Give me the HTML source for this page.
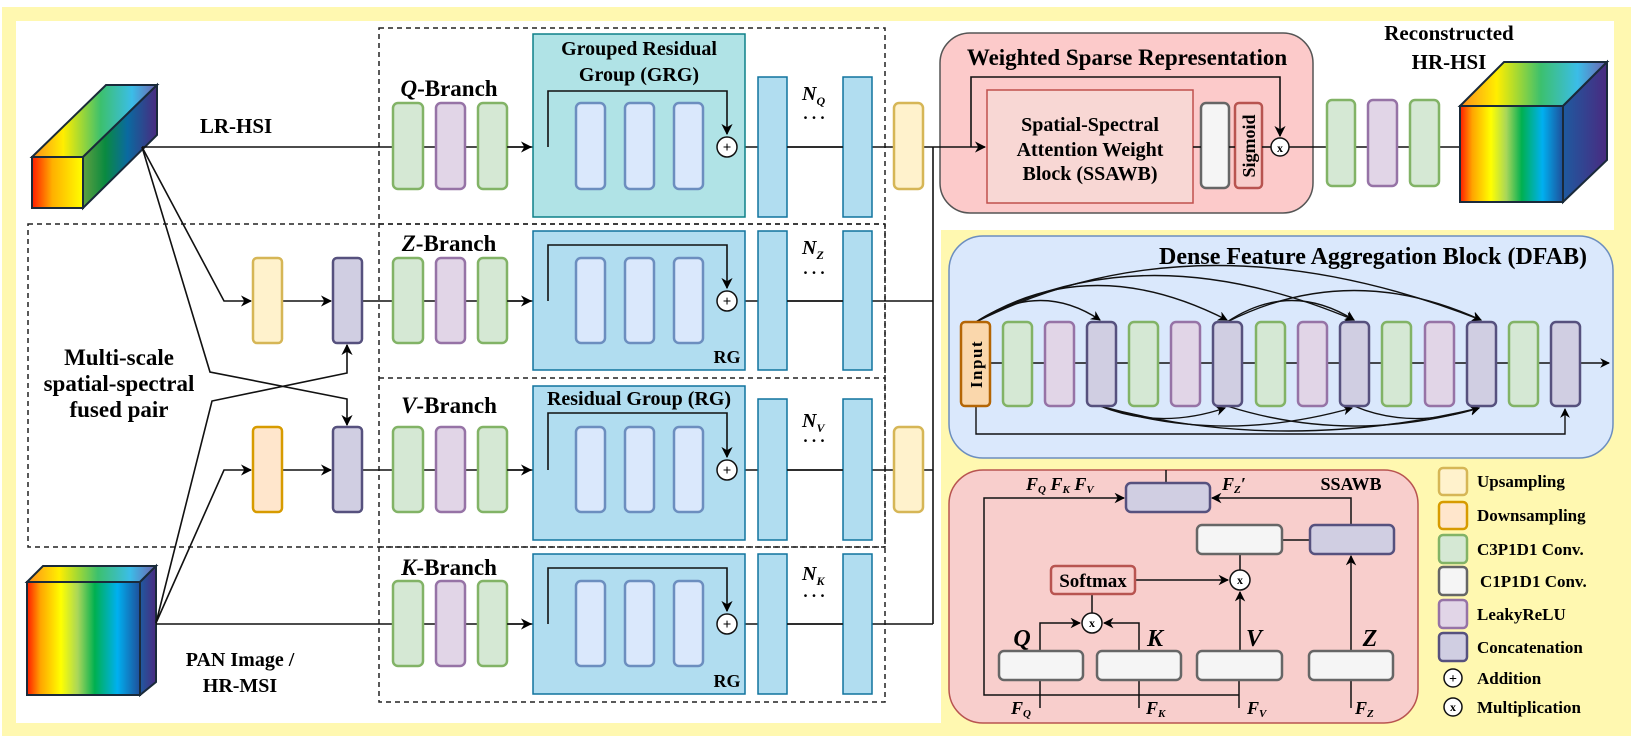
<!DOCTYPE html>
<html><head><meta charset="utf-8"><style>
html,body{margin:0;padding:0;background:#fff;}
svg{display:block;}
text{font-family:"Liberation Serif",serif;font-weight:bold;fill:#000;}
</style></head><body>
<svg width="1633" height="738" viewBox="0 0 1633 738" xmlns="http://www.w3.org/2000/svg">
<defs>
<marker id="a" viewBox="0 0 10 10" refX="9" refY="5" markerWidth="7" markerHeight="7" orient="auto-start-reverse"><path d="M0,0 L10,5 L0,10 L3,5 z" fill="#000"/></marker>
<linearGradient id="spec" x1="0" x2="1" y1="0" y2="0">
<stop offset="0" stop-color="#ff1a00"/><stop offset="0.12" stop-color="#ffa500"/><stop offset="0.3" stop-color="#ffff00"/><stop offset="0.45" stop-color="#a8d65a"/><stop offset="0.6" stop-color="#00b050"/><stop offset="0.8" stop-color="#00b0f0"/><stop offset="1" stop-color="#1f4e9a"/></linearGradient>
<linearGradient id="top" x1="0" x2="1" y1="0" y2="0">
<stop offset="0" stop-color="#ff8c1a"/><stop offset="0.25" stop-color="#ffee00"/><stop offset="0.55" stop-color="#3cc06e"/><stop offset="0.8" stop-color="#3bbde8"/><stop offset="1" stop-color="#7060b0"/></linearGradient>
<linearGradient id="side" x1="0" x2="1" y1="0" y2="0">
<stop offset="0" stop-color="#5ea040"/><stop offset="0.3" stop-color="#0a8a40"/><stop offset="0.6" stop-color="#0a6aa0"/><stop offset="1" stop-color="#4a2a80"/></linearGradient>
<linearGradient id="lrfront" x1="0" x2="1" y1="0" y2="0">
<stop offset="0" stop-color="#ff1a00"/><stop offset="0.4" stop-color="#ffb000"/><stop offset="1" stop-color="#ffff00"/></linearGradient>
<linearGradient id="side2" x1="0" x2="1"><stop offset="0" stop-color="#1e5aa0"/><stop offset="1" stop-color="#4a2a80"/></linearGradient>
</defs>
<rect width="1633" height="738" fill="#fff"/>
<rect x="2" y="7" width="1629" height="729" fill="#fff8b0"/>
<rect x="16" y="21" width="1598" height="209" fill="#fff"/>
<rect x="16" y="21" width="925" height="702" fill="#fff"/>

<g fill="none" stroke="#222" stroke-width="1.5" stroke-dasharray="5,4">
<rect x="379" y="28" width="506" height="674"/>
<line x1="379" y1="224" x2="885" y2="224"/>
<line x1="379" y1="547" x2="885" y2="547"/>
<rect x="28" y="224" width="857" height="323"/>
<line x1="379" y1="378" x2="885" y2="378"/>
</g>

<polygon points="32,157 106,85 157,85 83,157" fill="url(#top)" stroke="#1a2a3a" stroke-width="2"/>
<polygon points="83,157 157,85 157,135 83,208" fill="url(#side)" stroke="#1a2a3a" stroke-width="2"/>
<rect x="32" y="157" width="51" height="51" fill="url(#lrfront)" stroke="#1a2a3a" stroke-width="2"/>
<polygon points="27,582 43,566 156,566 140,582" fill="url(#top)" stroke="#1a2a3a" stroke-width="2"/>
<polygon points="140,582 156,566 156,682 140,695" fill="url(#side2)" stroke="#1a2a3a" stroke-width="2"/>
<rect x="27" y="582" width="113" height="113" fill="url(#spec)" stroke="#1a2a3a" stroke-width="2"/>

<g stroke="#111" stroke-width="1.6" fill="none">
<line x1="142" y1="147" x2="933" y2="147"/>
<line x1="362" y1="301" x2="933" y2="301"/>
<line x1="362" y1="470" x2="933" y2="470"/>
<line x1="156" y1="624" x2="933" y2="624"/>
<line x1="933" y1="147" x2="933" y2="624"/>
<polyline points="142,147 224,301 251,301" marker-end="url(#a)"/>
<line x1="282" y1="301" x2="331" y2="301" marker-end="url(#a)"/>
<polyline points="156,623 224,470 251,470" marker-end="url(#a)"/>
<line x1="282" y1="470" x2="331" y2="470" marker-end="url(#a)"/>
<polyline points="142,147 210,372 347,399 347,425" marker-end="url(#a)"/>
<polyline points="156,623 212,401 347,373 347,345" marker-end="url(#a)"/>
</g>

<g stroke-width="2.5">
<rect x="253" y="258" width="29" height="85" rx="4" fill="#fff2cc" stroke="#d6b656"/>
<rect x="333" y="258" width="29" height="85" rx="4" fill="#d0cee2" stroke="#56517e"/>
<rect x="253" y="427" width="29" height="85" rx="4" fill="#ffe6cc" stroke="#d79b00"/>
<rect x="333" y="427" width="29" height="85" rx="4" fill="#d0cee2" stroke="#56517e"/>
</g>

<rect x="533" y="34" width="212" height="183" fill="#b0e3e6" stroke="#0e8088" stroke-width="1.5"/>
<rect x="533" y="231" width="212" height="139" fill="#b1ddf0" stroke="#10739e" stroke-width="1.5"/>
<rect x="533" y="386" width="212" height="154" fill="#b1ddf0" stroke="#10739e" stroke-width="1.5"/>
<rect x="533" y="554" width="212" height="140" fill="#b1ddf0" stroke="#10739e" stroke-width="1.5"/>
<g fill="#b1ddf0" stroke="#10739e" stroke-width="1.5">
<rect x="758" y="77" width="29" height="140"/><rect x="843" y="77" width="29" height="140"/>
<rect x="758" y="231" width="29" height="139"/><rect x="843" y="231" width="29" height="139"/>
<rect x="758" y="399" width="29" height="141"/><rect x="843" y="399" width="29" height="141"/>
<rect x="758" y="554" width="29" height="140"/><rect x="843" y="554" width="29" height="140"/>
</g>
<g stroke="#111" stroke-width="1.6" fill="none">
<line x1="787" y1="147" x2="843" y2="147"/>
<line x1="787" y1="301" x2="843" y2="301"/>
<line x1="787" y1="470" x2="843" y2="470"/>
<line x1="787" y1="624" x2="843" y2="624"/>
</g>

<g stroke-width="2.5">
<rect x="393" y="103" width="30" height="86" rx="5" fill="#d5e8d4" stroke="#82b366"/>
<rect x="436" y="103" width="29" height="86" rx="5" fill="#e1d5e7" stroke="#9673a6"/>
<rect x="478" y="103" width="29" height="86" rx="5" fill="#d5e8d4" stroke="#82b366"/>
<rect x="393" y="258" width="30" height="85" rx="5" fill="#d5e8d4" stroke="#82b366"/>
<rect x="436" y="258" width="29" height="85" rx="5" fill="#e1d5e7" stroke="#9673a6"/>
<rect x="478" y="258" width="29" height="85" rx="5" fill="#d5e8d4" stroke="#82b366"/>
<rect x="393" y="427" width="30" height="85" rx="5" fill="#d5e8d4" stroke="#82b366"/>
<rect x="436" y="427" width="29" height="85" rx="5" fill="#e1d5e7" stroke="#9673a6"/>
<rect x="478" y="427" width="29" height="85" rx="5" fill="#d5e8d4" stroke="#82b366"/>
<rect x="393" y="581" width="30" height="85" rx="5" fill="#d5e8d4" stroke="#82b366"/>
<rect x="436" y="581" width="29" height="85" rx="5" fill="#e1d5e7" stroke="#9673a6"/>
<rect x="478" y="581" width="29" height="85" rx="5" fill="#d5e8d4" stroke="#82b366"/>
<g fill="#dae8fc" stroke="#6c8ebf">
<rect x="576" y="103" width="29" height="86" rx="5"/><rect x="625" y="103" width="29" height="86" rx="5"/><rect x="674" y="103" width="29" height="86" rx="5"/>
<rect x="576" y="258" width="29" height="85" rx="5"/><rect x="625" y="258" width="29" height="85" rx="5"/><rect x="674" y="258" width="29" height="85" rx="5"/>
<rect x="576" y="427" width="29" height="85" rx="5"/><rect x="625" y="427" width="29" height="85" rx="5"/><rect x="674" y="427" width="29" height="85" rx="5"/>
<rect x="576" y="581" width="29" height="85" rx="5"/><rect x="625" y="581" width="29" height="85" rx="5"/><rect x="674" y="581" width="29" height="85" rx="5"/>
</g>
<rect x="894" y="103" width="29" height="86" rx="5" fill="#fff2cc" stroke="#d6b656"/>
<rect x="894" y="427" width="29" height="85" rx="5" fill="#fff2cc" stroke="#d6b656"/>
</g>

<g stroke="#111" stroke-width="1.6" fill="none">
<line x1="507" y1="147" x2="531" y2="147" marker-end="url(#a)"/>
<line x1="507" y1="301" x2="531" y2="301" marker-end="url(#a)"/>
<line x1="507" y1="470" x2="531" y2="470" marker-end="url(#a)"/>
<line x1="507" y1="624" x2="531" y2="624" marker-end="url(#a)"/>
<polyline points="548,147 548,91 727,91 727,134" marker-end="url(#a)"/>
<polyline points="548,301 548,245 727,245 727,288" marker-end="url(#a)"/>
<polyline points="548,470 548,413 727,413 727,457" marker-end="url(#a)"/>
<polyline points="548,624 548,568 727,568 727,611" marker-end="url(#a)"/>
</g>
<g fill="#fff" stroke="#111" stroke-width="1.5">
<circle cx="727" cy="147" r="10"/><circle cx="727" cy="301" r="10"/><circle cx="727" cy="470" r="10"/><circle cx="727" cy="624" r="10"/>
</g>
<g font-size="15" text-anchor="middle">
<text x="727" y="152">+</text><text x="727" y="306">+</text><text x="727" y="475">+</text><text x="727" y="629">+</text>
</g>

<text x="236" y="133" font-size="21" text-anchor="middle">LR-HSI</text>
<g font-size="23" text-anchor="middle">
<text x="449" y="96"><tspan font-style="italic">Q</tspan>-Branch</text>
<text x="449" y="251"><tspan font-style="italic">Z</tspan>-Branch</text>
<text x="449" y="413"><tspan font-style="italic">V</tspan>-Branch</text>
<text x="449" y="575"><tspan font-style="italic">K</tspan>-Branch</text>
</g>
<g font-size="20" text-anchor="middle">
<text x="639" y="55">Grouped Residual</text>
<text x="639" y="81">Group (GRG)</text>
<text x="639" y="405">Residual Group (RG)</text>
</g>
<text x="727" y="363" font-size="18" text-anchor="middle">RG</text>
<text x="727" y="687" font-size="18" text-anchor="middle">RG</text>
<g font-size="20" font-style="italic">
<text x="802" y="100">N<tspan font-size="12" dy="5">Q</tspan></text>
<text x="802" y="254">N<tspan font-size="12" dy="5">Z</tspan></text>
<text x="802" y="427">N<tspan font-size="12" dy="5">V</tspan></text>
<text x="802" y="580">N<tspan font-size="12" dy="5">K</tspan></text>
</g>
<g font-size="17" text-anchor="middle">
<text x="814" y="119">. . .</text><text x="814" y="274">. . .</text><text x="814" y="442">. . .</text><text x="814" y="597">. . .</text>
</g>
<g font-size="23" text-anchor="middle">
<text x="119" y="365">Multi-scale</text>
<text x="119" y="391">spatial-spectral</text>
<text x="119" y="417">fused pair</text>
</g>
<g font-size="20" text-anchor="middle">
<text x="240" y="666">PAN Image /</text>
<text x="240" y="692">HR-MSI</text>
</g>

<rect x="940" y="33" width="373" height="180" rx="30" fill="#fccaca" stroke="#555" stroke-width="1.5"/>
<text x="1127" y="65" font-size="23" text-anchor="middle">Weighted Sparse Representation</text>
<rect x="987" y="90" width="206" height="113" fill="#f8d7d4" stroke="#c0504d" stroke-width="1.5"/>
<g font-size="20" text-anchor="middle">
<text x="1090" y="131">Spatial-Spectral</text>
<text x="1090" y="156">Attention Weight</text>
<text x="1090" y="180">Block (SSAWB)</text>
</g>
<rect x="1201" y="103" width="28" height="85" rx="5" fill="#f5f5f5" stroke="#666" stroke-width="2.5"/>
<rect x="1235" y="103" width="27" height="85" rx="4" fill="#f8cecc" stroke="#b85450" stroke-width="2.5"/>
<text transform="translate(1255,146) rotate(-90)" font-size="18" text-anchor="middle">Sigmoid</text>
<g stroke="#111" stroke-width="1.6" fill="none">
<line x1="933" y1="147" x2="985" y2="147" marker-end="url(#a)"/>
<polyline points="971,147 971,77 1280,77 1280,136" marker-end="url(#a)"/>
<line x1="1193" y1="147" x2="1201" y2="147"/><line x1="1229" y1="147" x2="1235" y2="147"/><line x1="1262" y1="147" x2="1271" y2="147"/>
<line x1="1289" y1="147" x2="1460" y2="147"/>
</g>
<circle cx="1280" cy="147" r="9" fill="#fff" stroke="#111" stroke-width="1.5"/>
<text x="1280" y="152" font-size="12" text-anchor="middle" font-weight="normal">x</text>
<g stroke-width="2.5">
<rect x="1327" y="100" width="28" height="86" rx="5" fill="#d5e8d4" stroke="#82b366"/>
<rect x="1368" y="100" width="29" height="86" rx="5" fill="#e1d5e7" stroke="#9673a6"/>
<rect x="1410" y="100" width="29" height="86" rx="5" fill="#d5e8d4" stroke="#82b366"/>
</g>
<polygon points="1460,106 1504,62 1607,62 1563,106" fill="url(#top)" stroke="#1a2a3a" stroke-width="2"/>
<polygon points="1563,106 1607,62 1607,160 1563,202" fill="url(#side2)" stroke="#1a2a3a" stroke-width="2"/>
<rect x="1460" y="106" width="103" height="96" fill="url(#spec)" stroke="#1a2a3a" stroke-width="2"/>
<g font-size="21" text-anchor="middle">
<text x="1449" y="40">Reconstructed</text>
<text x="1449" y="69">HR-HSI</text>
</g>

<rect x="949" y="236" width="664" height="222" rx="34" fill="#dae8fc" stroke="#6c8ebf" stroke-width="1.5"/>
<text x="1587" y="264" font-size="24" text-anchor="end">Dense Feature Aggregation Block (DFAB)</text>
<g stroke="#111" stroke-width="1.4" fill="none">
<line x1="990" y1="363" x2="1609" y2="363" marker-end="url(#a)"/>
<polyline points="976,406 976,434 1565,434 1565,409" marker-end="url(#a)"/>
<path d="M976,322 Q1040,280 1100,320" marker-end="url(#a)"/>
<path d="M976,322 Q1090,250 1227,320" marker-end="url(#a)"/>
<path d="M976,322 Q1140,230 1354,320" marker-end="url(#a)"/>
<path d="M976,322 Q1200,210 1481,320" marker-end="url(#a)"/>
<path d="M1227,322 Q1290,280 1354,320" marker-end="url(#a)"/>
<path d="M1227,322 Q1350,260 1481,320" marker-end="url(#a)"/>
<path d="M1100,406 Q1160,430 1225,408" marker-end="url(#a)"/>
<path d="M1100,406 Q1220,445 1352,408" marker-end="url(#a)"/>
<path d="M1100,406 Q1280,455 1479,408" marker-end="url(#a)"/>
<path d="M1227,406 Q1350,445 1479,408" marker-end="url(#a)"/>
<path d="M1354,406 Q1410,430 1479,408" marker-end="url(#a)"/>
</g>
<g stroke-width="2.5">
<rect x="961" y="322" width="29" height="84" rx="4" fill="#fad7ac" stroke="#b46504"/>
<rect x="1003" y="322" width="29" height="84" rx="5" fill="#d5e8d4" stroke="#82b366"/>
<rect x="1045" y="322" width="29" height="84" rx="5" fill="#e1d5e7" stroke="#9673a6"/>
<rect x="1087" y="322" width="29" height="84" rx="5" fill="#d0cee2" stroke="#56517e"/>
<rect x="1129" y="322" width="29" height="84" rx="5" fill="#d5e8d4" stroke="#82b366"/>
<rect x="1171" y="322" width="29" height="84" rx="5" fill="#e1d5e7" stroke="#9673a6"/>
<rect x="1213" y="322" width="29" height="84" rx="5" fill="#d0cee2" stroke="#56517e"/>
<rect x="1256" y="322" width="29" height="84" rx="5" fill="#d5e8d4" stroke="#82b366"/>
<rect x="1298" y="322" width="29" height="84" rx="5" fill="#e1d5e7" stroke="#9673a6"/>
<rect x="1340" y="322" width="29" height="84" rx="5" fill="#d0cee2" stroke="#56517e"/>
<rect x="1382" y="322" width="29" height="84" rx="5" fill="#d5e8d4" stroke="#82b366"/>
<rect x="1425" y="322" width="29" height="84" rx="5" fill="#e1d5e7" stroke="#9673a6"/>
<rect x="1467" y="322" width="29" height="84" rx="5" fill="#d0cee2" stroke="#56517e"/>
<rect x="1509" y="322" width="29" height="84" rx="5" fill="#d5e8d4" stroke="#82b366"/>
<rect x="1551" y="322" width="29" height="84" rx="5" fill="#d0cee2" stroke="#56517e"/>
</g>
<text transform="translate(982,364) rotate(-90)" font-size="17" text-anchor="middle" letter-spacing="1.5">Input</text>

<rect x="949" y="470" width="469" height="253" rx="34" fill="#f8cecc" stroke="#b85450" stroke-width="1.5"/>
<g stroke="#111" stroke-width="1.5" fill="none">
<line x1="1166" y1="470" x2="1166" y2="483"/>
<polyline points="1239,695 984,695 984,498 1124,498" marker-end="url(#a)"/>
<polyline points="1351,525 1351,498 1212,498" marker-end="url(#a)"/>
<line x1="1282" y1="540" x2="1310" y2="540"/>
<line x1="1240" y1="554" x2="1240" y2="570"/>
<line x1="1135" y1="580" x2="1228" y2="580" marker-end="url(#a)"/>
<line x1="1240" y1="651" x2="1240" y2="592" marker-end="url(#a)"/>
<line x1="1092" y1="594" x2="1092" y2="613"/>
<polyline points="1040,651 1040,623 1080,623" marker-end="url(#a)"/>
<polyline points="1139,651 1139,623 1104,623" marker-end="url(#a)"/>
<line x1="1351" y1="651" x2="1351" y2="556" marker-end="url(#a)"/>
<line x1="1040" y1="680" x2="1040" y2="708"/>
<line x1="1139" y1="680" x2="1139" y2="708"/>
<line x1="1239" y1="680" x2="1239" y2="708"/>
<line x1="1351" y1="680" x2="1351" y2="708"/>
</g>
<g stroke-width="2.5">
<rect x="1126" y="483" width="84" height="29" rx="5" fill="#d0cee2" stroke="#56517e"/>
<rect x="1310" y="525" width="84" height="29" rx="5" fill="#d0cee2" stroke="#56517e"/>
<rect x="1197" y="525" width="85" height="29" rx="5" fill="#f5f5f5" stroke="#666"/>
<rect x="1051" y="566" width="84" height="28" rx="4" fill="#f8cecc" stroke="#b85450"/>
<rect x="999" y="651" width="84" height="29" rx="5" fill="#f5f5f5" stroke="#666"/>
<rect x="1097" y="651" width="84" height="29" rx="5" fill="#f5f5f5" stroke="#666"/>
<rect x="1197" y="651" width="85" height="29" rx="5" fill="#f5f5f5" stroke="#666"/>
<rect x="1309" y="651" width="84" height="29" rx="5" fill="#f5f5f5" stroke="#666"/>
</g>
<text x="1093" y="587" font-size="19" text-anchor="middle">Softmax</text>
<g fill="#fff" stroke="#111" stroke-width="1.5"><circle cx="1240" cy="580" r="10"/><circle cx="1092" cy="623" r="10"/></g>
<g font-size="12" text-anchor="middle" font-weight="normal"><text x="1240" y="584">x</text><text x="1092" y="627">x</text></g>
<g font-size="24" font-style="italic" text-anchor="middle">
<text x="1022" y="646">Q</text><text x="1155" y="646">K</text><text x="1254" y="646">V</text><text x="1370" y="646">Z</text>
</g>
<g font-size="18" font-style="italic">
<text x="1026" y="490">F<tspan font-size="11" dy="3">Q</tspan><tspan dy="-3"> F</tspan><tspan font-size="11" dy="3">K</tspan><tspan dy="-3"> F</tspan><tspan font-size="11" dy="3">V</tspan></text>
<text x="1222" y="490">F<tspan font-size="11" dy="3">Z</tspan><tspan dy="-3">′</tspan></text>
<text x="1011" y="714">F<tspan font-size="11" dy="3">Q</tspan></text>
<text x="1146" y="714">F<tspan font-size="11" dy="3">K</tspan></text>
<text x="1247" y="714">F<tspan font-size="11" dy="3">V</tspan></text>
<text x="1355" y="714">F<tspan font-size="11" dy="3">Z</tspan></text>
</g>
<text x="1351" y="490" font-size="18" text-anchor="middle">SSAWB</text>

<g stroke-width="2.5">
<rect x="1439" y="468" width="28" height="27" rx="4" fill="#fff2cc" stroke="#d6b656"/>
<rect x="1439" y="502" width="28" height="27" rx="4" fill="#ffe6cc" stroke="#d79b00"/>
<rect x="1439" y="535" width="28" height="28" rx="4" fill="#d5e8d4" stroke="#82b366"/>
<rect x="1439" y="567" width="28" height="28" rx="4" fill="#f5f5f5" stroke="#666"/>
<rect x="1439" y="600" width="28" height="28" rx="4" fill="#e1d5e7" stroke="#9673a6"/>
<rect x="1439" y="633" width="28" height="28" rx="4" fill="#d0cee2" stroke="#56517e"/>
</g>
<g fill="#fff" stroke="#111" stroke-width="1.5"><circle cx="1453" cy="678" r="9"/><circle cx="1453" cy="707" r="9"/></g>
<text x="1453" y="683" font-size="14" text-anchor="middle">+</text>
<text x="1453" y="711" font-size="12" text-anchor="middle" font-weight="normal">x</text>
<g font-size="17">
<text x="1477" y="487">Upsampling</text>
<text x="1477" y="521">Downsampling</text>
<text x="1477" y="555">C3P1D1 Conv.</text>
<text x="1480" y="587">C1P1D1 Conv.</text>
<text x="1477" y="620">LeakyReLU</text>
<text x="1477" y="653">Concatenation</text>
<text x="1477" y="684">Addition</text>
<text x="1477" y="713">Multiplication</text>
</g>
</svg>
</body></html>
